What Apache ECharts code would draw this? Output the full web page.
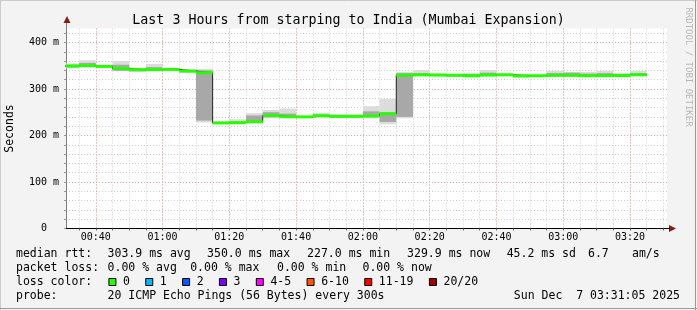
<!DOCTYPE html>
<html><head><meta charset="utf-8">
<script src="https://cdn.jsdelivr.net/npm/echarts@6/dist/echarts.min.js"></script>
<style>html,body{margin:0;padding:0;background:#f3f3f3;overflow:hidden}#c{width:697px;height:310px}</style>
</head><body><div id="c"></div>
<script>
// ---------------- data ----------------
const titleText = 'Last 3 Hours from starping to India (Mumbai Expansion)';
const yAxisTitle = 'Seconds';
const viewStartLabel = '00:31:05';
const viewMinutes = 180;
const stepMinutes = 5;
const stepStarts = ['00:30','00:35','00:40','00:45','00:50','00:55','01:00','01:05','01:10','01:15',
  '01:20','01:25','01:30','01:35','01:40','01:45','01:50','01:55','02:00','02:05',
  '02:10','02:15','02:20','02:25','02:30','02:35','02:40','02:45','02:50','02:55',
  '03:00','03:05','03:10','03:15','03:20'];
const medianRtt = [349.5,350.0,348.5,344.0,341.5,341.5,342.0,338.5,335.0,227.0,
  227.5,229.5,243.0,240.5,240.0,242.5,241.0,241.0,242.0,246.5,
  329.5,330.5,330.0,329.5,328.5,330.0,330.5,328.0,328.5,329.5,
  329.5,328.5,329.0,329.0,330.5];
const smokeLo = [344,348,346,338,337,339,340,335,228,225,
  225,228,237,237,238,239,238,238,238,224,
  237,327,327,326,325,327,327,325,326,326,
  326,326,326,326,328];
const smokeHi = [355,362,351,360,345,354,345,342,343,230,
  235,248,255,258,242,249,246,246,263,279,
  337,341,333,332,335,341,333,333,331,339,
  337,337,339,335,339];
const coreLo = [346.5,349,347,339,338,340,341,336,232,226,
  226,229,239,238,239,240,239,239,239,229,
  240,328,328,327,326,328,328,326,327,327,
  327,327,327,327,329];
const coreHi = [351,356,350,352,343,347,344,341,340,229,
  230,243,250,247,241,245,243,243,252,250,
  334,334,332,331,332,335,332,331,330,334,
  335,333,334,332,334];
const xTickLabels = ['00:40','01:00','01:20','01:40','02:00','02:20','02:40','03:00','03:20'];
const yTickValues = [0,100,200,300,400];
const yMax = 430;
const rttRow = [['median rtt:',16],['303.9 ms avg',107.6],['350.0 ms max',207.1],['227.0 ms min',307.1],['329.9 ms now',407.1],['45.2 ms sd',506.7],['6.7',588],['am/s',632]];
const lossRow = [['packet loss:',16],['0.00 % avg',107.6],['0.00 % max',190.2],['0.00 % min',277],['0.00 % now',362.5]];
const lossLabels = ['0','1','2','3','4-5','6-10','11-19','20/20'];
const lossColors = ['#26ff00','#00b8ff','#0059ff','#7e00ff','#ff00ff','#ff5500','#ff0000','#a10000'];
const probeText = '20 ICMP Echo Pings (56 Bytes) every 300s';
const dateText = 'Sun Dec  7 03:31:05 2025';
const sideText = 'RRDTOOL / TOBI OETIKER';

// ---------------- helpers ----------------
function toMin(s){const p=s.split(':').map(Number);return p[0]*60+p[1]+(p[2]||0)/60;}
function fmt(m){const h=Math.floor(m/60),mm=Math.round(m-h*60);return String(h).padStart(2,'0')+':'+String(mm).padStart(2,'0');}
const xMin = toMin(viewStartLabel), xMax = xMin + viewMinutes;
const starts = stepStarts.map(toMin);
const majorX = xTickLabels.map(toMin);
const allX = []; for(let t=Math.ceil(xMin/5)*5;t<=xMax;t+=5) allX.push(t);
const allY = []; for(let v=0;v<yMax;v+=20) allY.push(v);

const MONO = '"DejaVu Sans Mono", monospace';

function bandRender(color){
  return function(params, api){
    const s=api.value(0), e=api.value(1), lo=api.value(2), hi=api.value(3);
    const a=api.coord([s,hi]), b=api.coord([e,lo]);
    const cs=params.coordSys;
    const r=echarts.graphic.clipRectByRect({x:a[0],y:a[1],width:b[0]-a[0],height:b[1]-a[1]},{x:cs.x,y:cs.y,width:cs.width,height:cs.height});
    return r?{type:'rect',shape:r,style:{fill:color}}:null;
  };
}
const outerData = starts.map((s,i)=>[s,s+stepMinutes,smokeLo[i],smokeHi[i]]);
const coreData = starts.map((s,i)=>[s,s+stepMinutes,coreLo[i],coreHi[i]]);
const medData = starts.map((s,i)=>[s,s+stepMinutes,medianRtt[i]]);
const medLine = []; starts.forEach((s,i)=>{medLine.push([s,medianRtt[i]]);medLine.push([s+stepMinutes,medianRtt[i]]);});

// ---------------- graphics (legend / frame) ----------------
const g = [];
g.push({type:'rect',shape:{x:0,y:0,width:697,height:310},style:{fill:'#f3f3f3'},z:-10,silent:true});
g.push({type:'line',shape:{x1:0.5,y1:0,x2:0.5,y2:310},style:{stroke:'#cbcbcb',lineWidth:1},z:-9});
g.push({type:'line',shape:{x1:0,y1:0.5,x2:697,y2:0.5},style:{stroke:'#cbcbcb',lineWidth:1},z:-9});
g.push({type:'line',shape:{x1:695.5,y1:0,x2:695.5,y2:310},style:{stroke:'#999',lineWidth:1},z:-9});
g.push({type:'line',shape:{x1:0,y1:308.5,x2:697,y2:308.5},style:{stroke:'#999',lineWidth:1},z:-9});
function txt(t,x,y,opt){g.push(Object.assign({type:'text',x:x,y:y,style:{text:t,fill:'#000',font:'11.5px '+MONO,align:'left',verticalAlign:'middle'},z:10},opt||{}));}
rttRow.forEach(r=>txt(r[0],r[1],254.5));
lossRow.forEach(r=>txt(r[0],r[1],268.5));
txt('loss color:',16,282.5);
let lx=108.4;
lossLabels.forEach((l,i)=>{
  g.push({type:'rect',shape:{x:lx+0.5,y:278.5,width:7,height:7},style:{fill:lossColors[i],stroke:'#000',lineWidth:1},z:10});
  txt(l,lx+14.6,282.5);
  lx+=29.9+6.95*l.length;
});
txt('probe:',16,296.5);
txt(probeText,107.6,296.5);
g.push({type:'text',x:680,y:296.5,style:{text:dateText,fill:'#000',font:'11.5px '+MONO,align:'right',verticalAlign:'middle'},z:10});
g.push({type:'text',x:688,y:67,rotation:-Math.PI/2,style:{text:sideText,fill:'#b8b8b8',font:'9px '+MONO,align:'center',verticalAlign:'middle'},z:10});
// axis arrows
g.push({type:'polygon',shape:{points:[[63.5,23],[70.5,23],[67,16]]},style:{fill:'#8b1a1a'},z:10});
g.push({type:'polygon',shape:{points:[[669,225],[669,232],[676,228.5]]},style:{fill:'#8b1a1a'},z:10});
g.push({type:'line',shape:{x1:66.5,y1:23,x2:66.5,y2:28.5},style:{stroke:'#808080',lineWidth:1},z:10});
g.push({type:'line',shape:{x1:667,y1:228.5,x2:670,y2:228.5},style:{stroke:'#000',lineWidth:1},z:10});

const chart = echarts.init(document.getElementById('c'),null,{renderer:'canvas'});
chart.setOption({
  animation:false,
  backgroundColor:'#f3f3f3',
  title:{text:titleText,left:'center',top:9,textStyle:{fontFamily:MONO,fontSize:13.3,fontWeight:'normal',color:'#000'}},
  grid:{left:66,top:28.5,width:601,height:200,show:true,backgroundColor:'#fff',borderWidth:0,containLabel:false,outerBoundsMode:'none'},
  xAxis:[
    {type:'value',min:xMin,max:xMax,position:'bottom',
     axisLine:{show:true,onZero:false,lineStyle:{color:'#000',width:1}},
     axisTick:{show:true,length:2,inside:false,customValues:allX,lineStyle:{color:'#666'}},
     axisLabel:{show:true,customValues:majorX,formatter:v=>fmt(v),fontFamily:MONO,fontSize:10,color:'#000',margin:4},
     splitLine:{show:true,lineStyle:{color:'#d0d0d0',width:1,type:[1,2]}}},
    {type:'value',min:xMin,max:xMax,position:'bottom',
     axisLine:{show:false},axisTick:{show:false,customValues:majorX},axisLabel:{show:false},
     splitLine:{show:true,lineStyle:{color:'#f0a0a0',width:1,type:[1,2]}}}
  ],
  yAxis:[
    {type:'value',min:0,max:yMax,position:'left',name:yAxisTitle,nameLocation:'middle',nameGap:50,
     nameTextStyle:{fontFamily:MONO,fontSize:11.5,color:'#000'},
     axisLine:{show:true,onZero:false,lineStyle:{color:'#808080',width:1}},
     axisTick:{show:true,length:2,customValues:allY,lineStyle:{color:'#999'}},
     axisLabel:{show:true,customValues:yTickValues,formatter:v=>v===0?'0  ':(v+' m'),fontFamily:MONO,fontSize:10,color:'#000',margin:7},
     splitLine:{show:true,lineStyle:{color:'#d0d0d0',width:1,type:[1,2]}}},
    {type:'value',min:0,max:yMax,position:'left',
     axisLine:{show:false},axisTick:{show:false,customValues:[100,200,300,400]},axisLabel:{show:false},
     splitLine:{show:true,lineStyle:{color:'#f0a0a0',width:1,type:[1,2]}}}
  ],
  graphic:g,
  series:[
    {type:'custom',name:'smoke',renderItem:bandRender('#dcdcdc'),data:outerData,encode:{x:[0,1],y:[2,3]},z:2,silent:true},
    {type:'custom',name:'smoke core',renderItem:bandRender('#a8a8a8'),data:coreData,encode:{x:[0,1],y:[2,3]},z:3,silent:true},
    {type:'line',name:'median line',data:medLine,symbol:'none',lineStyle:{color:'#202020',width:1},clip:true,z:4,silent:true},
    {type:'custom',name:'median',renderItem:function(params,api){
       const s=api.value(0),e=api.value(1),m=api.value(2);
       const a=api.coord([s,m]),b=api.coord([e,m]);const cs=params.coordSys;
       const r=echarts.graphic.clipRectByRect({x:a[0],y:a[1]-1.5,width:b[0]-a[0],height:3},{x:cs.x,y:cs.y,width:cs.width,height:cs.height});
       return r?{type:'rect',shape:r,style:{fill:lossColors[0]}}:null;
     },data:medData,encode:{x:[0,1],y:2},z:5,silent:true}
  ]
});
</script></body></html>
